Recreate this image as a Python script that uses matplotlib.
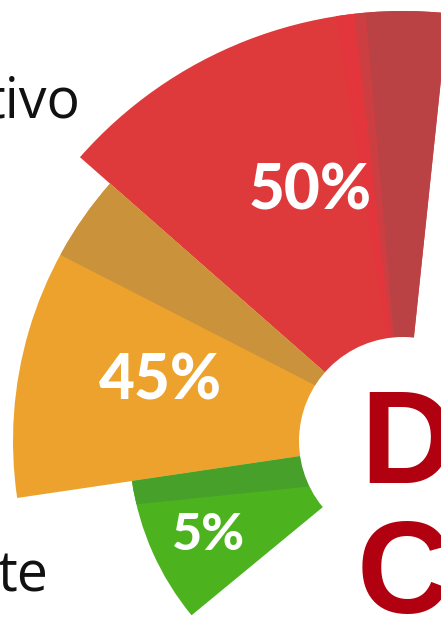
import matplotlib
matplotlib.use('Agg')
import matplotlib.pyplot as plt
from matplotlib.patches import Wedge, Circle
import numpy as np

# data
values = [50, 45, 5]
labels = [f'{v}%' for v in values]
colors = ['#de3a3b', '#eca22d', '#4cb31f']
shade_colors = ['#bb4244', '#c9923b', '#46a02a']
word_top = 'tivo'
word_bottom = 'te'
hub_lines = ['DI', 'CO']

# layout (pixel units, y up)
W, H = 441, 618
cx, cy = 403, 177
edges = [84, 138.7, 188.4, 219.5]      # wedge boundary angles
radii = [430, 390, 274]
label_r = [249, 246, 223]
label_th = [111.9, 170.4, 209.2]
label_px = [62, 62, 52]
hub_r = 104

fig = plt.figure(figsize=(W / 100, H / 100), dpi=100)
ax = fig.add_axes([0, 0, 1, 1])
ax.set_xlim(0, W)
ax.set_ylim(0, H)
ax.axis('off')

wedges = []
for i in range(len(values)):
    w = Wedge((cx, cy), radii[i], edges[i], edges[i + 1], facecolor=colors[i], edgecolor='none')
    ax.add_patch(w)
    wedges.append(w)

# darker shading bands on each slice
ax.add_patch(Wedge((cx, cy), radii[0], edges[0], 95, facecolor=shade_colors[0], edgecolor='none'))
ax.add_patch(Wedge((cx, cy), radii[0], 95, 96.5, facecolor='#cc3e41', edgecolor='none'))
ax.add_patch(Wedge((cx, cy), radii[0], 96.5, 99, facecolor='#e3363c', edgecolor='none'))

s = Wedge((340, 220), 400, 110, 152.9, facecolor=shade_colors[1], edgecolor='none')
ax.add_patch(s)
s.set_clip_path(wedges[1])

s = Wedge((-557, 42), 1100, 5.9, 9, facecolor=shade_colors[2], edgecolor='none')
ax.add_patch(s)
s.set_clip_path(wedges[2])

# labels
for i in range(len(values)):
    t = np.deg2rad(label_th[i])
    ax.text(cx + label_r[i] * np.cos(t), cy + label_r[i] * np.sin(t), labels[i],
            ha='center', va='baseline', color='white', fontsize=label_px[i] * 0.72,
            fontweight='black', family=['Lato', 'DejaVu Sans'])

# hub
ax.add_patch(Circle((cx, cy), hub_r, facecolor='white', edgecolor='none'))
ax.text(360, 135, hub_lines[0], ha='left', va='baseline', color='#b10010',
        fontsize=94, fontweight='bold', family=['Liberation Sans'])
ax.text(357, 5, hub_lines[1], ha='left', va='baseline', color='#b10010',
        fontsize=94, fontweight='bold', family=['Liberation Sans'])

ax.text(80, 501, word_top, ha='right', va='baseline', color='#111111',
        fontsize=40, family=['Open Sans', 'DejaVu Sans'])
ax.text(48, 26, word_bottom, ha='right', va='baseline', color='#111111',
        fontsize=40, family=['Open Sans', 'DejaVu Sans'])

fig.savefig('out.png', dpi=100)
